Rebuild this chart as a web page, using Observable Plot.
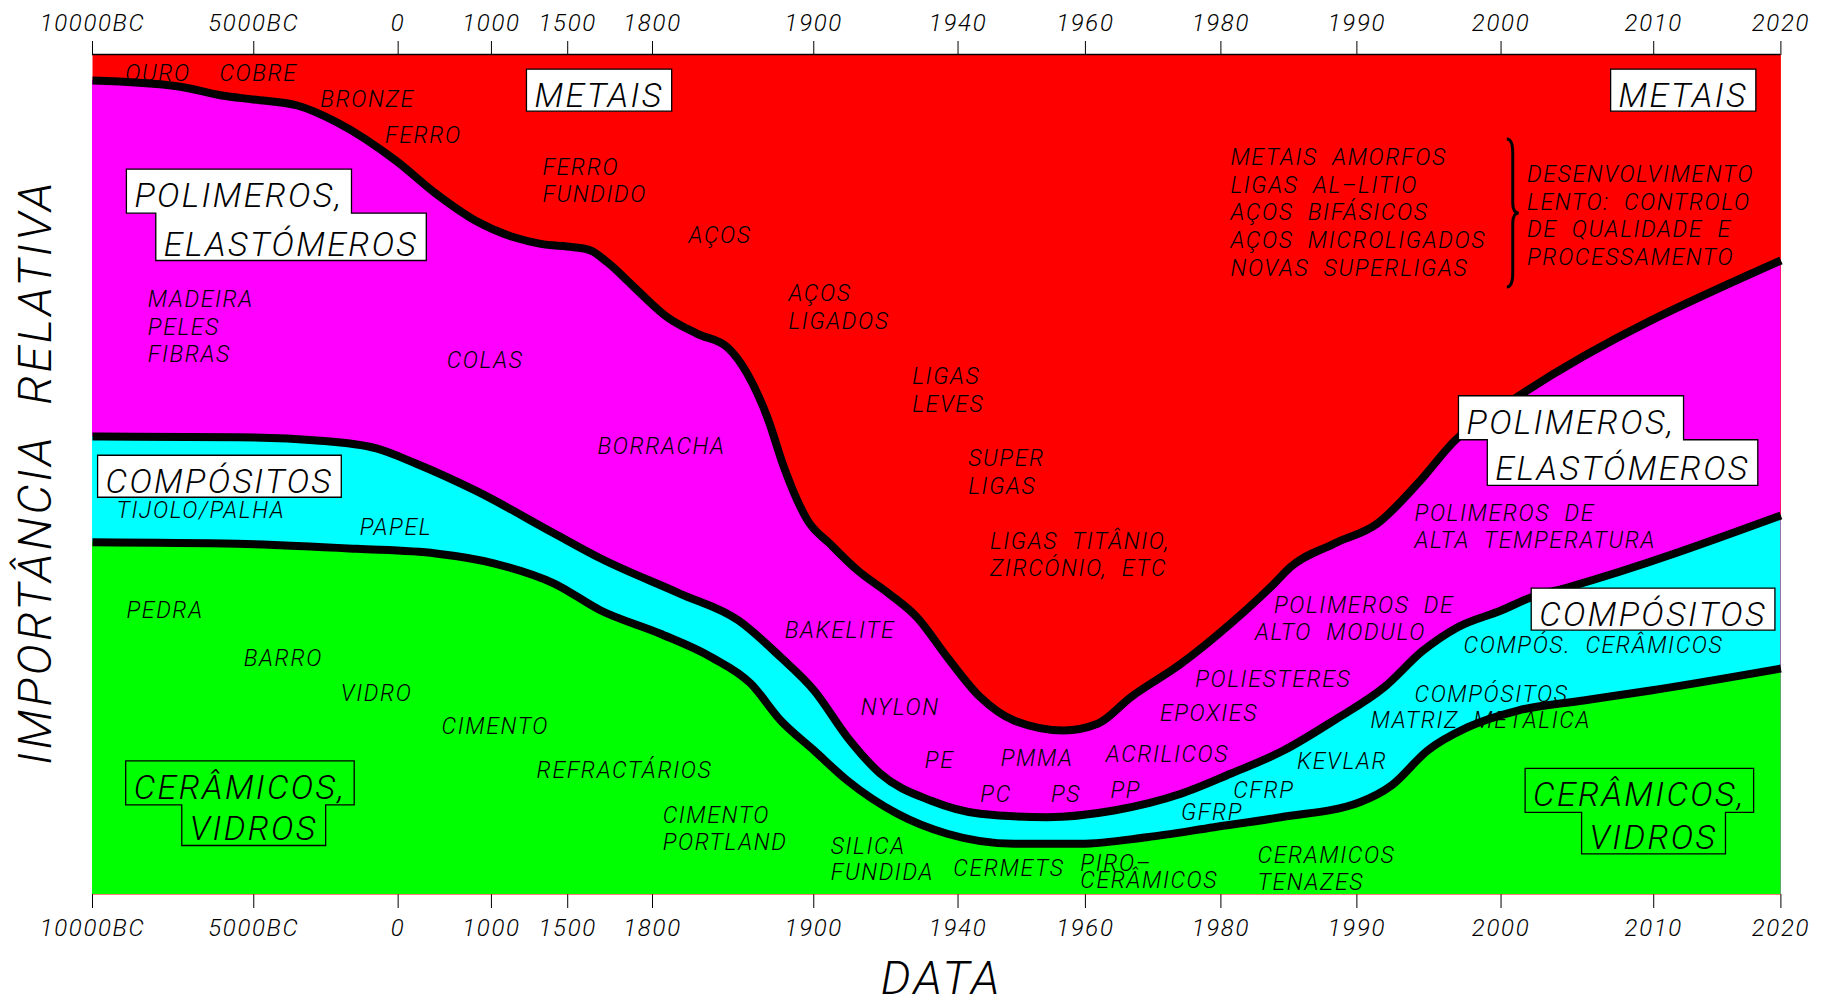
<!DOCTYPE html>
<html>
<head>
<meta charset="utf-8">
<script src="https://cdn.jsdelivr.net/npm/d3@7"></script>
<script src="https://cdn.jsdelivr.net/npm/@observablehq/plot@0.6"></script>
<style>
html, body { margin: 0; padding: 0; background: #fff; }
svg text { white-space: pre; letter-spacing: 0.07em; }
</style>
</head>
<body>
<div id="chart"></div>
<script>
// ---- axis ticks (irregular, piecewise time axis) ----
const tickYears  = [-10000, -5000, 0, 1000, 1500, 1800, 1900, 1940, 1960, 1980, 1990, 2000, 2010, 2020];
const tickLabels = ["10000BC", "5000BC", "0", "1000", "1500", "1800", "1900", "1940", "1960", "1980", "1990", "2000", "2010", "2020"];

// ---- boundary curves (cumulative relative importance, %) ----
// top of ceramics & glasses
const ceramicsYears  = [-10000, -5496, -1434, 403, 1022, 1412, 1617, 1804.5, 1836.5, 1860.9, 1879.5, 1900.1, 1909.3, 1923.2, 1937.0, 1948.8, 1959.2, 1969.1, 1979.0, 1984.4, 1990.2, 1992.4, 1994.9, 1997.7, 2001.1, 2005.4, 2009.8, 2020];
const ceramicsValues = [41.94, 41.75, 41.15, 40.60, 39.40, 37.02, 33.81, 31.07, 28.25, 25.12, 20.71, 17.14, 13.57, 9.61, 7.23, 6.04, 6.04, 6.82, 8.01, 9.20, 10.99, 12.98, 17.14, 19.92, 21.90, 23.10, 24.29, 26.90];
// top of composites
const compositesYears  = [-10000, -5496, -2819, -755, 189, 826, 1412, 1617, 1816.9, 1853.4, 1879.5, 1900.1, 1909.3, 1918.5, 1932.4, 1943.5, 1954.0, 1964.2, 1974.1, 1980.7, 1984.6, 1988.3, 1991.9, 1994.6, 1997.0, 2000.0, 2002.0, 2004.4, 2020];
const compositesValues = [54.52, 54.44, 54.05, 53.10, 51.31, 48.10, 42.98, 40.00, 35.83, 32.62, 28.25, 24.29, 18.73, 14.37, 11.19, 9.61, 9.20, 10.00, 11.99, 14.37, 17.14, 20.71, 24.68, 29.05, 31.82, 33.81, 35.39, 36.58, 45.12];
// top of polymers & elastomers (metals above)
const polymersYears  = [-10000, -7325, -5992, -5000, -3490, -2126, -83, 403, 826, 1153, 1323, 1521, 1581, 1640, 1735, 1809.2, 1827.8, 1846.4, 1858.8, 1871.2, 1881.5, 1888.0, 1896.2, 1904.5, 1912.2, 1920.9, 1928.6, 1937.0, 1943.5, 1948.8, 1956.6, 1961.8, 1966.7, 1974.1, 1980.7, 1983.9, 1985.1, 1988.3, 1991.4, 1994.2, 1996.8, 2001.2, 2020];
const polymersValues = [96.90, 96.19, 95.12, 94.64, 93.93, 91.94, 87.38, 83.45, 80.24, 78.21, 77.46, 77.06, 76.67, 75.27, 72.30, 68.73, 66.75, 65.15, 61.99, 56.82, 50.87, 47.70, 44.52, 41.75, 38.57, 35.80, 33.01, 28.25, 23.49, 20.71, 19.52, 20.32, 23.49, 27.46, 32.23, 36.99, 38.96, 41.75, 44.13, 48.89, 54.05, 59.40, 75.48];

// ---- material annotations: [text, year, value at baseline] ----
const materialNotes = [
  ["OURO", -8983, 96.79], ["COBRE", -6063, 96.79], ["BRONZE", -2697, 93.73], ["FERRO", -454, 89.49],
  ["FERRO", 1334, 85.71], ["FUNDIDO", 1334, 82.50], ["AÇOS", 1822.3, 77.54],
  ["AÇOS", 1884.3, 70.60], ["LIGADOS", 1884.3, 67.35],
  ["LIGAS", 1927.3, 60.80], ["LEVES", 1927.3, 57.50],
  ["SUPER", 1941.6, 50.99], ["LIGAS", 1941.6, 47.70],
  ["LIGAS  TITÂNIO,", 1945.0, 41.15], ["ZIRCÓNIO,  ETC", 1945.0, 37.86],
  ["METAIS  AMORFOS", 1980.7, 86.79], ["LIGAS  AL–LITIO", 1980.7, 83.49], ["AÇOS  BIFÁSICOS", 1980.7, 80.24],
  ["AÇOS  MICROLIGADOS", 1980.7, 76.99], ["NOVAS  SUPERLIGAS", 1980.7, 73.69],
  ["DESENVOLVIMENTO", 2001.7, 84.80], ["LENTO:  CONTROLO", 2001.7, 81.51], ["DE  QUALIDADE  E", 2001.7, 78.25], ["PROCESSAMENTO", 2001.7, 74.96],
  ["MADEIRA", -8286, 69.92], ["PELES", -8286, 66.63], ["FIBRAS", -8286, 63.37],
  ["COLAS", 521, 62.65], ["BORRACHA", 1605, 52.46],
  ["TIJOLO/PALHA", -9253, 44.80], ["PAPEL", -1330, 42.74],
  ["PEDRA", -8946, 32.89], ["BARRO", -5310, 27.26], ["VIDRO", -1988, 22.98], ["CIMENTO", 466, 19.13],
  ["REFRACTÁRIOS", 1296, 13.85], ["CIMENTO", 1806.3, 8.54], ["PORTLAND", 1806.3, 5.24],
  ["SILICA", 1904.7, 4.85], ["FUNDIDA", 1904.7, 1.67], ["CERMETS", 1938.7, 2.18],
  ["PIRO–", 1959.2, 2.77], ["CERÂMICOS", 1959.2, 0.80], ["CERAMICOS", 1982.7, 3.77], ["TENAZES", 1982.7, 0.56],
  ["BAKELITE", 1882.0, 30.56], ["NYLON", 1913.0, 21.39],
  ["PE", 1930.8, 15.04], ["PMMA", 1946.7, 15.24], ["PC", 1943.5, 11.07], ["PS", 1954.6, 11.07], ["PP", 1963.7, 11.51],
  ["ACRILICOS", 1963.0, 15.83], ["EPOXIES", 1971.0, 20.71], ["POLIESTERES", 1976.2, 24.68],
  ["GFRP", 1974.1, 8.89], ["CFRP", 1980.9, 11.51], ["KEVLAR", 1985.6, 14.96],
  ["COMPÓSITOS", 1994.0, 22.89], ["MATRIZ  METÁLICA", 1990.95, 19.85], ["COMPÓS.  CERÂMICOS", 1997.4, 28.77],
  ["POLIMEROS  DE", 1983.9, 33.54], ["ALTO  MODULO", 1982.5, 30.24],
  ["POLIMEROS  DE", 1994.0, 44.52], ["ALTA  TEMPERATURA", 1994.0, 41.27]
];

// ---- class names: [text, year, value at baseline, class, group] ----
const classNames = [
  ["METAIS", 1282, 93.73, "metais", 0],
  ["METAIS", 2007.7, 93.73, "metais", 1],
  ["POLIMEROS,", -8701, 81.82, "polimeros", 2], ["ELASTÓMEROS", -7790, 76.07, "polimeros", 2],
  ["POLIMEROS,", 1997.6, 54.85, "polimeros", 3], ["ELASTÓMEROS", 1999.6, 49.29, "polimeros", 3],
  ["COMPÓSITOS", -9594, 47.77, "compositos", 4],
  ["COMPÓSITOS", 2002.5, 31.94, "compositos", 5],
  ["CERÂMICOS,", -8723, 11.39, "ceramicos", 6], ["VIDROS", -6984, 6.43, "ceramicos", 6],
  ["CERÂMICOS,", 2002.1, 10.48, "ceramicos", 7], ["VIDROS", 2005.8, 5.44, "ceramicos", 7]
];

// brace grouping the recent metals: [year, top value, bottom value]
const braceSpan = [2000.8, 89.88, 72.26];

// ---------------------------------------------------------------
// The time axis is drawn with irregular spacing between its ticks:
// relative position (0..1) of each tick along the axis.
const tickSpacing = [0, 0.09552, 0.18103, 0.23628, 0.28146, 0.33168, 0.42719, 0.51264, 0.58808, 0.66832, 0.74886, 0.83425, 0.92468, 1];
const timeAxis = d3.scaleLinear().domain(tickYears).range(tickSpacing);
const tickPosLabel = new Map(tickYears.map((y, i) => [timeAxis(y), tickLabels[i]]));

const toPts = (ys, vs) => ys.map((year, i) => ({t: timeAxis(year), value: vs[i]}));
const ceramics = toPts(ceramicsYears, ceramicsValues);
const composites = toPts(compositesYears, compositesValues);
const polymers = toPts(polymersYears, polymersValues);
const notes = materialNotes.map(([text, year, value]) => ({text, t: timeAxis(year), value}));
const names = classNames.map(([text, year, value, cls, group]) => ({text, t: timeAxis(year), value, cls, group}));

const FONT = "Roboto, 'DejaVu Sans', sans-serif";
const COLORS = {metais: "#ff0000", polimeros: "#ff00ff", compositos: "#00ffff", ceramicos: "#00ff00"};

function braceMark(index, scales) {
  const x = scales.x(timeAxis(braceSpan[0]));
  const y0 = scales.y(braceSpan[1]);
  const y1 = scales.y(braceSpan[2]);
  const ym = (y0 + y1) / 2;
  const p = document.createElementNS("http://www.w3.org/2000/svg", "path");
  p.setAttribute("d",
    `M${x - 6},${y0} Q${x},${y0} ${x},${y0 + 14} L${x},${ym - 10} Q${x},${ym} ${x + 6},${ym} ` +
    `Q${x},${ym} ${x},${ym + 10} L${x},${y1 - 14} Q${x},${y1} ${x - 6},${y1}`);
  p.setAttribute("fill", "none");
  p.setAttribute("stroke", "black");
  p.setAttribute("stroke-width", 3);
  return p;
}

const textStyle = {fontFamily: FONT, fontStyle: "italic", fontWeight: 300, fill: "black"};
const boundary = {x: "t", y: "value", stroke: "black", strokeWidth: 8, strokeLinecap: "butt", curve: "monotone-x"};

const chart = Plot.plot({
  width: 1825,
  height: 1003,
  marginLeft: 92,
  marginRight: 44.6,
  marginTop: 54,
  marginBottom: 109,
  style: {fontFamily: FONT, fontSize: "24px", fontStyle: "italic", fontWeight: 300, background: "white", color: "black", overflow: "visible"},
  x: {
    domain: [0, 1],
    axis: "both",
    ticks: tickYears.map(timeAxis),
    tickFormat: d => tickPosLabel.get(d),
    tickSize: 14,
    tickPadding: 10,
    label: null
  },
  y: {domain: [0, 100], axis: null},
  marks: [
    Plot.frame({fill: COLORS.metais, stroke: "none"}),
    Plot.areaY(polymers, {x: "t", y1: 0, y2: "value", fill: COLORS.polimeros, curve: "monotone-x"}),
    Plot.areaY(composites, {x: "t", y1: 0, y2: "value", fill: COLORS.compositos, curve: "monotone-x"}),
    Plot.areaY(ceramics, {x: "t", y1: 0, y2: "value", fill: COLORS.ceramicos, curve: "monotone-x"}),
    Plot.text(notes, {x: "t", y: "value", text: "text", textAnchor: "start", lineAnchor: "bottom", fontSize: 23, ...textStyle}),
    Plot.line(polymers, boundary),
    Plot.line(composites, boundary),
    Plot.line(ceramics, boundary),
    Plot.ruleY([100], {stroke: "black", strokeWidth: 1.5}),
    braceMark,
    Plot.text(["IMPORTÂNCIA  RELATIVA"], {text: d => d, frameAnchor: "left", rotate: -90, textAnchor: "middle", lineAnchor: "bottom", dx: -41.4, dy: -2.5, fontSize: 47, ...textStyle}),
    Plot.text(["DATA"], {text: d => d, frameAnchor: "bottom", textAnchor: "middle", lineAnchor: "bottom", dx: 5, dy: 99, fontSize: 47, ...textStyle}),
    Plot.text(names, {x: "t", y: "value", text: "text", textAnchor: "start", lineAnchor: "bottom", fontSize: 34, ...textStyle})
  ]
});
document.getElementById("chart").appendChild(chart);

// ---- boxes around the class names, sized from the rendered text ----
(function drawBoxes() {
  const groups = chart.querySelectorAll('g[aria-label="text"]');
  const g = groups[groups.length - 1];
  const nodes = Array.from(g.querySelectorAll("text"));
  if (nodes.length !== names.length) return;
  const byGroup = d3.group(nodes.map((node, i) => ({node, d: names[i]})), e => e.d.group);
  const padX = 8, up = 38, down = 4, gap = 6;
  for (const [, items] of byGroup) {
    const rects = items.map(({node}) => {
      const b = node.getBBox();
      const tr = node.getAttribute("transform") || "";
      const t = /translate\(([-\d.e]+),\s*([-\d.e]+)\)/.exec(tr);
      const offX = t ? +t[1] : 0;
      const baseline = t ? +t[2] : (+node.getAttribute("y") || 0);
      return {L: offX + b.x - padX, R: offX + b.x + b.width + padX, base: baseline};
    });
    let d;
    if (rects.length === 1) {
      const r = rects[0];
      d = `M${r.L},${r.base - up}H${r.R}V${r.base + down}H${r.L}Z`;
    } else {
      const [a, b] = rects;
      const M = a.base + gap;
      d = `M${a.L},${a.base - up}H${a.R}V${M}H${b.R}V${b.base + down + 1}H${b.L}V${M}H${a.L}Z`;
    }
    const cls = items[0].d.cls;
    const p = document.createElementNS("http://www.w3.org/2000/svg", "path");
    p.setAttribute("d", d);
    p.setAttribute("fill", cls === "ceramicos" ? "none" : "white");
    p.setAttribute("stroke", "black");
    p.setAttribute("stroke-width", 1.3);
    const gt = g.getAttribute("transform");
    if (gt) p.setAttribute("transform", gt);
    g.parentNode.insertBefore(p, g);
  }
})();
</script>
</body>
</html>
